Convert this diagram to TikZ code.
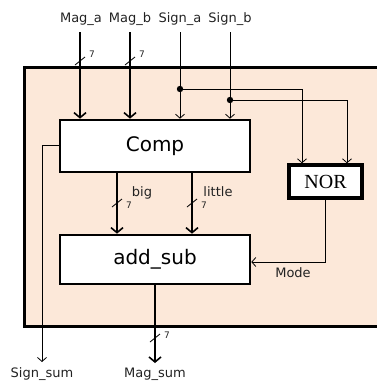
\documentclass[tikz,border=0pt]{standalone}
\usepackage{fontspec}
\setmainfont{DejaVu Sans}
\newfontfamily\norfont{Liberation Serif}
\usetikzlibrary{arrows.meta}
\definecolor{peach}{HTML}{FCE8D9}
\definecolor{txt}{HTML}{222222}
\begin{document}
\begin{tikzpicture}[x=1pt,y=-1pt,
  block/.style={draw, line width=2.6pt, fill=white, inner sep=0pt},
  bus/.style={line width=2pt, -{Straight Barb[length=5pt,width=12pt,line width=1.6pt]}},
  sig/.style={line width=0.8pt, -{Straight Barb[length=4pt,width=9pt,line width=0.8pt]}},
  lbl/.style={font=\fontsize{13}{15}\selectfont, text=txt, inner sep=0pt},
  num/.style={font=\fontsize{9}{10}\selectfont, text=txt, inner sep=0pt},
  slash/.style={line width=0.8pt}
]
\useasboundingbox (0,0) rectangle (377,381);
\begin{scope}
\clip (0,0) rectangle (377,381);
\fill[peach] (24,67) rectangle (390,326);
\draw[line width=3pt] (390,67) -- (24,67) -- (24,326) -- (390,326);
\end{scope}

% blocks
\node[block, minimum width=190pt, minimum height=52pt, font=\fontsize{20}{23}\selectfont] (comp) at (155,146) {Comp};
\node[block, minimum width=190pt, minimum height=49pt, font=\fontsize{20}{23}\selectfont] (asub) at (155,259.5) {add\_sub};
\node[block, line width=3.4pt, minimum width=73pt, minimum height=33pt, font=\norfont\fontsize{20}{22}\selectfont] (nor) at (325.5,181.5) {NOR};

% input labels
\node[lbl, anchor=base] (lma) at (81,22) {Mag\_a};
\node[lbl, anchor=base] (lmb) at (130,22) {Mag\_b};
\node[lbl, anchor=base] (lsa) at (180,22) {Sign\_a};
\node[lbl, anchor=base] (lsb) at (230,22) {Sign\_b};
\coordinate (ma) at (80,32);
\coordinate (mb) at (130,32);
\coordinate (sa) at (180,32);
\coordinate (sb) at (230,32);

\draw[bus] (ma) -- (ma |- comp.north);
\draw[bus] (mb) -- (mb |- comp.north);
\draw[sig] (sa) -- (sa |- comp.north);
\draw[sig] (sb) -- (sb |- comp.north);

% bus slashes on inputs
\draw[slash] (75,65) -- (85,57);
\node[num] (n1) at (92,54) {7};
\draw[slash] (125,65) -- (135,57);
\node[num] (n2) at (142,54) {7};

% sign taps to NOR
\coordinate (dA) at (180,89);
\coordinate (dB) at (230,100);
\fill (dA) circle (3.2pt);
\fill (dB) circle (3.2pt);
\coordinate (tA) at (302,89);
\coordinate (tB) at (347,100);
\draw[sig] (dA) -- (tA) -- (tA |- nor.north);
\draw[sig] (dB) -- (tB) -- (tB |- nor.north);

% big / little
\coordinate (bg) at (117,172);
\coordinate (lt) at (192,172);
\draw[bus] (bg |- comp.south) -- (bg |- asub.north);
\draw[bus] (lt |- comp.south) -- (lt |- asub.north);
\node[lbl, anchor=base] (lbig) at (142,196) {big};
\node[lbl, anchor=base] (llit) at (218,196) {little};
\draw[slash] (112,207) -- (122,199);
\node[num] (n3) at (129,205) {7};
\draw[slash] (187,207) -- (197,199);
\node[num] (n4) at (204,205) {7};

% Mode
\coordinate (mc) at (325.5,262);
\draw[sig] (mc |- nor.south) -- (mc) -- (mc -| asub.east);
\node[lbl, anchor=base] (lmode) at (293,277) {Mode};

% Sign_sum
\coordinate (ss) at (42,145);
\coordinate (ssE) at (42,362);
\draw[sig] (comp.west |- ss) -- (ss) -- (ssE);
\node[lbl, anchor=base] (lss) at (42,377) {Sign\_sum};

% Mag_sum
\coordinate (ms) at (155,363);
\draw[bus] (asub.south) -- (ms);
\draw[slash] (150,342) -- (160,334);
\node[num] (n5) at (167,335) {7};
\node[lbl, anchor=base] (lms) at (155,377) {Mag\_sum};
\end{tikzpicture}
\end{document}
